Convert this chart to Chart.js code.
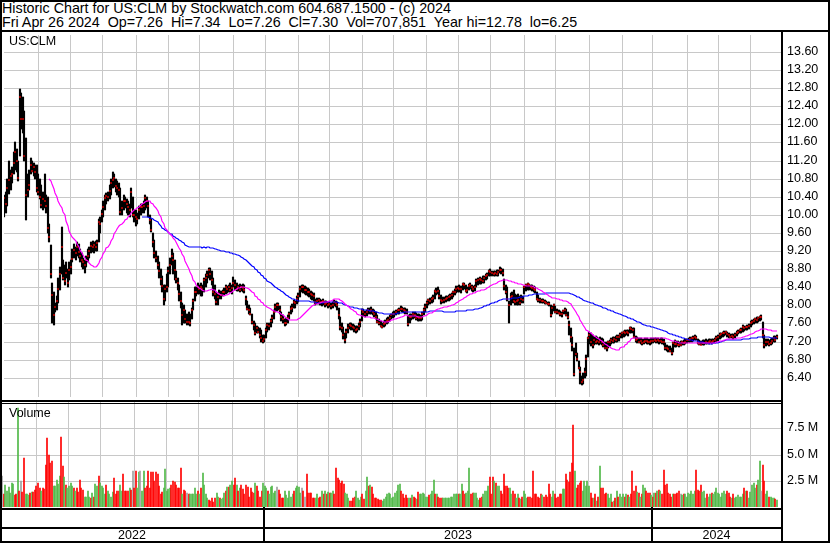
<!DOCTYPE html>
<html>
<head>
<meta charset="utf-8">
<script src="https://cdn.jsdelivr.net/npm/chart.js@4.4.1/dist/chart.umd.min.js"></script>
<style>
  body { margin: 0; background: #fff; }
  #wrap { position: relative; width: 830px; height: 543px; overflow: hidden; background: #fff;
          font-family: Arial, "Liberation Sans", sans-serif; color: #000; }
  canvas { position: absolute; left: 0; }
  .ln { position: absolute; background: #000; }
  .txt { position: absolute; font-size: 12.5px; line-height: 13.5px; white-space: pre; }
  .title { font-size: 14.3px; }
</style>
</head>
<body>
<div id="wrap">
  <canvas id="price" width="830" height="370" style="top:31px"></canvas>
  <canvas id="volume" width="830" height="141" style="top:402px"></canvas>

  <div class="txt title" style="left:2px; top:2.3px">Historic Chart for US:CLM by Stockwatch.com 604.687.1500 - (c) 2024
Fri Apr 26 2024  Op=7.26  Hi=7.34  Lo=7.26  Cl=7.30  Vol=707,851  Year hi=12.78  lo=6.25</div>
  <div class="txt" style="left:9px; top:35px">US:CLM</div>
  <div class="txt" style="left:9px; top:406.5px">Volume</div>

  <!-- frame -->
  <div class="ln" style="left:0; top:0; width:830px; height:2px"></div>
  <div class="ln" style="left:0; top:0; width:2px; height:543px"></div>
  <div class="ln" style="left:828px; top:0; width:2px; height:543px"></div>
  <div class="ln" style="left:0; top:541px; width:830px; height:2px"></div>
  <div class="ln" style="left:0; top:30px; width:830px; height:2px"></div>
  <div class="ln" style="left:781px; top:30px; width:2px; height:513px"></div>
  <div class="ln" style="left:0; top:400px; width:783px; height:2px"></div>
  <div class="ln" style="left:0; top:403px; width:783px; height:1px"></div>
  <div class="ln" style="left:0; top:508px; width:783px; height:2px"></div>
  <div class="ln" style="left:0; top:527px; width:783px; height:2px"></div>
</div>

<script>
// daily bars, May 2 2022 .. Apr 26 2024, x = trading day index
const highs = [
10.45,10.50,10.80,11.18,11.00,11.05,11.40,11.60,11.45,11.20,
12.78,12.70,12.60,12.30,11.70,10.90,11.00,11.25,11.20,11.15,
11.10,11.10,10.90,10.80,10.65,10.50,10.90,10.45,10.40,9.80,
9.33,8.50,8.30,8.05,8.20,8.60,8.85,9.73,9.00,8.90,
8.95,8.80,8.95,9.00,9.25,9.35,9.30,9.40,9.35,9.25,
9.15,9.05,9.00,9.10,9.25,9.30,9.40,9.42,9.40,9.42,
9.45,9.90,9.95,10.10,10.30,10.45,10.48,10.50,10.65,10.80,
10.95,10.90,10.80,10.75,10.70,10.60,10.30,10.45,10.40,10.35,
10.30,10.25,10.60,10.40,10.10,10.10,10.05,10.20,10.25,10.25,
10.30,10.45,10.40,10.30,10.00,9.90,9.60,9.45,9.20,9.10,
8.95,8.80,8.65,8.45,8.45,8.70,8.85,9.05,9.25,9.15,
9.00,8.75,8.60,8.45,8.30,8.05,8.00,7.90,7.80,7.85,
7.80,7.95,8.15,8.40,8.40,8.50,8.45,8.50,8.45,8.60,
8.70,8.75,8.83,8.82,8.75,8.60,8.45,8.30,8.25,8.35,
8.32,8.35,8.38,8.45,8.42,8.45,8.50,8.45,8.62,8.55,
8.50,8.45,8.48,8.45,8.47,8.45,8.20,8.10,8.00,7.95,
7.80,7.65,7.60,7.55,7.52,7.50,7.45,7.35,7.35,7.50,
7.62,7.62,7.70,7.78,7.90,8.02,8.05,8.06,7.98,7.85,
7.78,7.70,7.72,7.78,7.86,7.98,8.02,8.12,8.10,8.20,
8.28,8.43,8.45,8.45,8.42,8.40,8.38,8.36,8.32,8.30,
8.28,8.15,8.16,8.16,8.14,8.12,8.14,8.10,8.10,8.08,
8.08,8.05,8.07,8.12,8.10,8.08,7.95,7.75,7.60,7.52,
7.40,7.48,7.58,7.62,7.60,7.58,7.56,7.54,7.55,7.62,
7.70,7.92,7.92,7.88,7.90,7.95,7.94,7.96,7.92,7.90,
7.86,7.78,7.70,7.66,7.62,7.65,7.68,7.72,7.74,7.78,
7.82,7.86,7.88,7.90,7.93,7.95,7.98,7.96,7.95,7.94,
7.92,7.78,7.80,7.82,7.85,7.86,7.84,7.82,7.80,7.78,
7.85,7.95,8.02,8.10,8.14,8.16,8.18,8.22,8.35,8.38,
8.40,8.35,8.22,8.18,8.18,8.20,8.20,8.22,8.25,8.28,
8.32,8.36,8.42,8.43,8.44,8.42,8.50,8.49,8.44,8.40,
8.47,8.50,8.46,8.43,8.45,8.58,8.60,8.62,8.60,8.64,
8.66,8.70,8.72,8.79,8.80,8.76,8.75,8.76,8.78,8.78,
8.84,8.82,8.80,8.58,8.45,8.40,8.10,8.28,8.30,8.35,
8.25,8.22,8.25,8.20,8.22,8.20,8.43,8.48,8.50,8.48,
8.46,8.44,8.42,8.40,8.30,8.22,8.16,8.15,8.14,8.12,
8.10,8.08,8.07,8.00,7.98,8.02,7.98,7.92,7.90,7.88,
7.86,7.90,7.94,7.92,7.85,7.65,7.50,7.30,7.05,7.16,
6.95,6.78,6.63,6.45,6.50,6.62,6.90,7.30,7.42,7.40,
7.35,7.30,7.32,7.30,7.28,7.30,7.28,7.25,7.20,7.18,
7.22,7.24,7.28,7.30,7.31,7.32,7.34,7.35,7.40,7.42,
7.44,7.46,7.46,7.45,7.52,7.52,7.50,7.49,7.32,7.30,
7.28,7.27,7.26,7.25,7.28,7.27,7.26,7.25,7.28,7.27,
7.28,7.27,7.28,7.26,7.28,7.27,7.25,7.17,7.13,7.11,
7.10,7.05,7.20,7.24,7.22,7.21,7.20,7.21,7.22,7.24,
7.25,7.26,7.28,7.29,7.31,7.32,7.34,7.33,7.26,7.24,
7.22,7.23,7.24,7.25,7.24,7.26,7.26,7.25,7.26,7.27,
7.32,7.34,7.38,7.40,7.42,7.43,7.44,7.42,7.40,7.36,
7.37,7.36,7.38,7.44,7.46,7.48,7.50,7.56,7.55,7.54,
7.56,7.58,7.66,7.68,7.70,7.72,7.74,7.75,7.77,7.78,
7.64,7.35,7.25,7.26,7.24,7.26,7.28,7.32,7.33,7.34
];
const lows = [
9.95,10.05,10.20,10.46,10.55,10.70,10.90,11.00,10.95,10.75,
11.30,11.90,11.80,11.18,9.88,10.40,10.55,10.90,10.95,10.85,
10.80,10.50,10.45,10.35,10.15,10.10,10.15,10.05,9.60,9.40,
8.61,7.60,7.56,7.85,7.90,8.05,8.35,8.70,8.55,8.45,
8.60,8.40,8.55,8.70,8.95,9.05,9.00,9.10,9.05,8.95,
8.85,8.80,8.72,8.85,8.95,9.05,9.15,9.18,9.15,9.20,
9.20,9.40,9.60,9.85,9.95,10.10,10.25,10.30,10.35,10.45,
10.60,10.62,10.50,10.45,10.40,10.00,10.00,10.10,10.15,10.05,
10.00,9.95,10.15,9.95,9.85,9.75,9.80,9.90,10.00,10.05,
10.05,10.10,10.15,9.95,9.80,9.62,9.30,9.05,8.95,8.80,
8.60,8.45,8.30,8.00,8.10,8.30,8.40,8.70,8.90,8.70,
8.55,8.50,8.35,8.10,7.95,7.56,7.60,7.60,7.56,7.56,
7.55,7.70,7.90,8.10,8.20,8.25,8.25,8.20,8.20,8.30,
8.40,8.50,8.60,8.55,8.45,8.20,8.15,8.00,8.00,8.15,
8.15,8.20,8.22,8.25,8.28,8.30,8.30,8.25,8.40,8.35,
8.32,8.32,8.30,8.32,8.30,8.28,8.00,7.90,7.80,7.78,
7.58,7.45,7.35,7.38,7.38,7.28,7.20,7.17,7.18,7.28,
7.42,7.45,7.52,7.60,7.70,7.85,7.88,7.90,7.82,7.65,
7.60,7.55,7.56,7.62,7.70,7.80,7.86,7.95,7.95,8.02,
8.08,8.18,8.30,8.28,8.25,8.24,8.20,8.18,8.15,8.12,
8.10,8.00,8.02,8.02,8.00,7.98,8.00,7.97,7.98,7.94,
7.96,7.92,7.94,7.98,7.96,7.90,7.70,7.45,7.42,7.25,
7.17,7.28,7.40,7.48,7.46,7.45,7.42,7.40,7.42,7.46,
7.52,7.65,7.76,7.74,7.76,7.80,7.80,7.82,7.78,7.75,
7.70,7.60,7.56,7.52,7.50,7.52,7.55,7.58,7.60,7.65,
7.70,7.72,7.75,7.78,7.80,7.82,7.88,7.85,7.84,7.82,
7.80,7.55,7.62,7.68,7.70,7.72,7.68,7.65,7.66,7.65,
7.68,7.78,7.85,7.95,8.00,8.02,8.05,8.08,8.15,8.22,
8.25,8.15,8.04,8.06,8.05,8.08,8.10,8.10,8.12,8.15,
8.18,8.22,8.28,8.30,8.30,8.28,8.35,8.36,8.30,8.28,
8.33,8.36,8.32,8.30,8.32,8.40,8.45,8.47,8.48,8.50,
8.50,8.55,8.58,8.64,8.66,8.65,8.64,8.65,8.65,8.66,
8.72,8.70,8.65,8.35,8.25,8.10,7.60,8.00,8.05,8.05,
8.00,8.00,8.00,8.00,8.05,8.05,8.25,8.32,8.33,8.35,
8.34,8.32,8.30,8.28,8.12,8.08,8.06,8.05,8.05,8.04,
8.02,8.00,7.98,7.75,7.80,7.88,7.84,7.82,7.80,7.76,
7.74,7.80,7.82,7.76,7.70,7.35,7.20,7.00,6.45,6.88,
6.77,6.60,6.27,6.25,6.27,6.40,6.45,6.85,7.15,7.10,
7.05,7.12,7.15,7.14,7.12,7.15,7.12,7.08,7.03,7.00,
7.05,7.10,7.14,7.16,7.17,7.18,7.20,7.22,7.27,7.28,
7.30,7.33,7.34,7.32,7.38,7.40,7.38,7.28,7.18,7.16,
7.16,7.15,7.13,7.14,7.16,7.15,7.14,7.13,7.15,7.16,
7.18,7.16,7.17,7.15,7.16,7.14,7.13,7.02,7.00,6.98,
6.96,6.91,6.98,7.08,7.09,7.10,7.09,7.10,7.12,7.13,
7.14,7.16,7.18,7.18,7.20,7.22,7.24,7.23,7.14,7.12,
7.12,7.13,7.13,7.14,7.14,7.15,7.16,7.15,7.16,7.17,
7.20,7.22,7.26,7.28,7.30,7.33,7.34,7.30,7.28,7.27,
7.27,7.26,7.28,7.32,7.36,7.38,7.40,7.42,7.44,7.45,
7.46,7.48,7.52,7.56,7.58,7.60,7.62,7.64,7.66,7.68,
7.28,7.06,7.10,7.12,7.10,7.12,7.14,7.18,7.20,7.26
];
const closes = [
10.38,10.25,10.60,10.78,10.85,10.90,11.14,11.39,11.20,10.82,
12.60,12.12,12.12,11.30,10.43,10.55,10.67,11.10,10.97,11.05,
10.95,10.60,10.50,10.40,10.22,10.35,10.31,10.20,9.70,9.50,
8.70,8.22,7.78,7.96,8.10,8.36,8.69,9.30,8.60,8.54,
8.72,8.50,8.79,8.85,9.03,9.23,9.15,9.30,9.19,9.10,
9.01,8.95,8.90,9.00,9.08,9.20,9.32,9.30,9.34,9.30,
9.38,9.84,9.80,10.02,10.17,10.38,10.42,10.40,10.53,10.70,
10.78,10.82,10.64,10.60,10.55,10.06,10.15,10.31,10.30,10.25,
10.17,10.10,10.50,10.00,10.00,9.95,9.90,10.10,10.17,10.17,
10.20,10.38,10.30,10.20,9.88,9.66,9.41,9.15,9.05,8.90,
8.75,8.58,8.43,8.14,8.36,8.40,8.76,8.90,9.08,9.00,
8.79,8.58,8.50,8.25,8.10,7.78,7.89,7.70,7.64,7.64,
7.62,7.90,8.10,8.29,8.30,8.40,8.36,8.40,8.36,8.55,
8.61,8.68,8.79,8.70,8.55,8.29,8.25,8.07,8.18,8.25,
8.22,8.29,8.30,8.40,8.36,8.40,8.33,8.38,8.50,8.45,
8.36,8.40,8.35,8.40,8.38,8.34,8.14,7.93,7.90,7.82,
7.64,7.57,7.38,7.50,7.42,7.35,7.28,7.22,7.25,7.45,
7.57,7.55,7.65,7.72,7.85,7.96,8.00,8.00,7.90,7.75,
7.70,7.60,7.62,7.71,7.80,7.93,7.95,8.07,8.05,8.14,
8.20,8.36,8.40,8.40,8.33,8.33,8.30,8.29,8.25,8.22,
8.20,8.07,8.10,8.11,8.08,8.07,8.09,8.04,8.05,8.00,
8.02,7.98,8.00,8.07,8.05,8.00,7.78,7.53,7.50,7.35,
7.24,7.42,7.50,7.57,7.55,7.53,7.50,7.46,7.48,7.55,
7.64,7.89,7.85,7.80,7.85,7.89,7.87,7.90,7.85,7.82,
7.75,7.64,7.60,7.55,7.53,7.58,7.60,7.65,7.67,7.72,
7.78,7.80,7.82,7.85,7.89,7.90,7.93,7.92,7.89,7.88,
7.86,7.58,7.75,7.74,7.82,7.78,7.72,7.75,7.71,7.72,
7.82,7.90,7.96,8.05,8.11,8.10,8.14,8.16,8.32,8.30,
8.32,8.20,8.11,8.10,8.11,8.14,8.16,8.18,8.20,8.22,
8.29,8.30,8.36,8.38,8.36,8.37,8.47,8.45,8.32,8.35,
8.43,8.45,8.40,8.36,8.40,8.54,8.56,8.58,8.55,8.54,
8.60,8.65,8.68,8.76,8.74,8.72,8.70,8.72,8.70,8.74,
8.79,8.78,8.72,8.43,8.30,8.14,8.00,8.18,8.20,8.10,
8.07,8.10,8.11,8.05,8.14,8.12,8.40,8.44,8.47,8.45,
8.40,8.38,8.36,8.34,8.14,8.12,8.11,8.09,8.10,8.07,
8.05,8.04,8.02,7.78,7.95,8.00,7.86,7.85,7.83,7.82,
7.80,7.88,7.89,7.78,7.75,7.56,7.31,7.13,6.48,6.92,
6.81,6.62,6.52,6.30,6.35,6.52,6.81,7.28,7.35,7.20,
7.12,7.24,7.20,7.22,7.20,7.24,7.18,7.13,7.06,7.05,
7.18,7.20,7.24,7.22,7.25,7.24,7.31,7.30,7.35,7.38,
7.42,7.40,7.42,7.40,7.49,7.48,7.46,7.31,7.24,7.25,
7.20,7.22,7.17,7.20,7.22,7.21,7.20,7.18,7.22,7.21,
7.24,7.22,7.23,7.21,7.22,7.20,7.19,7.06,7.05,7.04,
7.00,6.95,7.17,7.15,7.14,7.13,7.12,7.12,7.18,7.17,
7.20,7.23,7.24,7.25,7.27,7.28,7.30,7.28,7.18,7.14,
7.13,7.16,7.17,7.18,7.16,7.20,7.22,7.20,7.21,7.23,
7.28,7.30,7.35,7.36,7.38,7.40,7.42,7.36,7.34,7.31,
7.33,7.30,7.34,7.40,7.42,7.45,7.46,7.53,7.50,7.53,
7.52,7.55,7.62,7.64,7.66,7.69,7.68,7.72,7.75,7.75,
7.35,7.13,7.18,7.20,7.15,7.17,7.22,7.28,7.24,7.30
];
// volume in millions of shares
const volumes = [
3.0,1.2,2.1,1.5,1.9,1.3,2.3,2.2,1.1,1.2,
9.4,1.5,2.45,1.4,4.7,1.2,1.2,1.1,1.3,1.4,
1.4,1.6,2.0,2.3,1.8,1.5,1.8,1.7,4.0,6.6,
5.0,4.2,4.35,2.0,2.0,2.6,2.2,3.0,6.7,3.9,
2.9,2.1,1.8,2.0,2.3,2.0,1.8,1.5,1.8,1.4,
2.6,1.8,1.6,1.0,1.0,1.5,1.0,0.9,1.3,1.0,
2.2,2.0,3.0,2.3,2.0,1.8,1.2,2.1,1.5,1.2,
1.0,1.4,2.8,1.2,1.5,1.5,2.1,1.5,3.1,1.5,
1.5,1.5,1.8,1.6,3.4,1.8,3.4,1.8,3.3,3.4,
1.5,3.4,1.8,2.0,3.4,1.8,3.3,3.3,2.45,3.3,
3.1,2.0,1.2,1.4,1.8,3.6,1.5,1.7,1.8,2.1,
2.45,2.4,2.1,1.8,1.8,3.7,1.2,1.6,1.5,1.3,
1.2,1.2,1.2,1.2,1.8,1.2,1.5,1.2,1.8,3.2,
2.1,1.2,0.9,0.7,0.6,0.9,0.5,0.9,1.3,1.0,
0.9,0.8,0.9,1.3,1.5,1.9,1.9,2.1,2.45,2.1,
2.8,2.1,1.5,1.8,2.1,1.7,1.2,2.1,1.9,1.0,
1.8,1.4,1.3,2.3,2.0,1.5,1.0,1.5,2.3,2.0,
1.8,1.5,1.2,1.9,2.0,1.3,1.5,1.9,1.6,1.2,
0.9,0.9,1.5,1.1,0.9,1.5,1.0,1.2,1.5,1.8,
2.0,1.9,1.3,1.8,1.5,1.0,3.1,1.3,1.3,1.3,
0.9,0.9,0.9,1.2,0.9,1.0,1.5,1.2,1.5,1.2,
1.4,1.3,1.3,1.5,1.2,3.7,2.8,2.6,2.3,2.45,
2.2,1.3,1.2,0.9,0.55,0.55,0.9,1.0,1.5,0.9,
0.7,1.0,1.2,0.8,1.5,2.9,2.0,2.13,1.9,1.2,
0.9,0.9,0.8,0.7,0.7,0.6,0.8,1.0,1.2,1.3,
1.2,0.9,1.0,1.3,1.5,2.1,2.2,1.5,1.2,0.9,
1.1,0.9,0.9,0.85,1.1,1.0,0.9,0.8,1.4,1.2,
1.2,1.3,1.2,1.0,1.0,1.1,1.2,1.5,2.6,1.2,
1.2,1.0,0.9,0.9,0.85,0.85,0.9,0.9,0.9,1.0,
1.0,1.2,1.2,1.2,1.2,1.2,2.2,1.5,1.2,1.3,
1.5,3.7,1.2,1.34,1.3,1.3,0.9,0.7,0.9,1.0,
1.2,1.5,1.5,1.98,2.9,1.2,2.9,2.45,2.3,2.0,
1.98,1.5,1.2,3.1,2.0,1.98,1.8,1.8,1.2,1.5,
1.2,0.9,1.2,0.9,0.8,1.0,1.5,1.2,0.9,1.0,
1.0,0.9,3.4,1.2,1.2,1.0,0.9,1.2,1.1,1.0,
1.1,1.0,2.2,1.2,1.0,1.5,1.2,0.9,1.0,1.2,
1.2,1.7,1.7,3.1,2.6,2.4,3.3,4.2,7.84,3.4,
1.8,2.1,2.3,2.45,1.5,2.45,2.0,2.5,2.0,1.3,
0.9,0.9,1.2,0.6,1.0,3.9,1.8,1.8,1.2,1.3,
1.2,0.9,1.2,0.5,0.6,0.9,1.5,1.0,1.2,1.0,
1.2,1.0,1.2,1.1,1.0,1.2,3.4,1.5,2.0,1.4,
1.3,1.0,1.2,2.1,1.8,1.5,1.3,1.3,1.1,1.0,
1.3,1.3,1.5,1.6,1.5,1.2,3.5,2.1,2.2,1.3,
1.2,1.0,1.2,1.2,1.2,1.3,1.5,1.2,1.1,1.2,
1.2,1.0,1.3,1.2,1.5,1.2,1.5,3.5,1.6,1.5,
2.1,1.4,1.5,0.9,1.2,1.0,1.2,1.3,1.2,1.4,
1.8,1.3,1.2,1.0,1.3,1.5,1.2,1.5,1.3,1.0,
0.9,1.2,0.9,1.0,1.1,1.0,1.0,1.2,1.8,1.5,
1.5,0.9,1.4,2.1,2.3,1.8,2.1,2.6,4.4,1.5,
4.0,2.5,1.2,1.5,1.0,1.0,0.9,0.9,0.8,0.71
];

const priceTicks = [6.40,6.80,7.20,7.60,8.00,8.40,8.80,9.20,9.60,10.00,10.40,10.80,11.20,11.60,12.00,12.40,12.80,13.20,13.60];
const volumeTicks = [2.5, 5.0, 7.5];
// month boundaries (in bar index units) for the vertical grid
const monthLines = [21.5,42.5,63,85,105.5,126,148,168.5,190,210,231,251,272.5,293,314,336,356,377.5,399,418.5,441,461,481.5];
const years = ['2022', '2023', '2024'];
const yearBreaks = [168.5, 418.5];
const fastPeriod = 30, slowPeriod = 90;

[highs, lows, closes, volumes].forEach(function (a, k) {
    if (a.length !== 500) throw new Error('array ' + k + ' has ' + a.length + ' values');
});

const FONT = 'Arial, "Liberation Sans", sans-serif';
const X_MIN = -0.2, X_MAX = 501.7;

function movingAverage(values, n) {
    const out = [];
    for (let i = n - 1; i < values.length; i++) {
        let sum = 0;
        for (let k = i - n + 1; k <= i; k++) sum += values[k];
        out.push({ x: i, y: sum / n });
    }
    return out;
}

function xAxis() {
    return {
        type: 'linear', min: X_MIN, max: X_MAX, offset: false, alignToPixels: true,
        ticks: { display: false },
        grid: { color: '#c8c8c8', lineWidth: 1, drawTicks: false, offset: false },
        border: { display: false },
        afterBuildTicks: s => { s.ticks = monthLines.map(v => ({ value: v })); },
        afterFit: s => { s.height = 0; s.paddingLeft = 0; s.paddingRight = 0; }
    };
}

function yAxis(min, max, ticks, fmt) {
    return {
        position: 'right', min: min, max: max, alignToPixels: true,
        grid: { color: '#c8c8c8', lineWidth: 1, drawTicks: false },
        border: { display: false },
        ticks: { color: '#000', padding: 6, font: { family: FONT, size: 12.5 }, callback: fmt },
        afterBuildTicks: s => { s.ticks = ticks.map(v => ({ value: v })); },
        afterFit: s => { s.width = 49; s.paddingTop = 0; s.paddingBottom = 0; }
    };
}

// price panel
new Chart(document.getElementById('price'), {
    type: 'scatter',
    data: {
        datasets: [
            { type: 'line', data: movingAverage(closes, fastPeriod), borderColor: '#ff00ff', borderWidth: 1.2,
              pointRadius: 0, showLine: true, order: 0 },
            { type: 'line', data: movingAverage(closes, slowPeriod), borderColor: '#0000ff', borderWidth: 1.2,
              pointRadius: 0, showLine: true, order: 1 },
            { type: 'scatter', data: closes.map((c, i) => ({ x: i, y: c })), pointStyle: 'rect',
              pointRadius: 1.1, backgroundColor: '#ff0000', borderWidth: 0, order: 2 },
            { type: 'bar', data: highs.map((h, i) => ({ x: i, y: [lows[i], h] })), backgroundColor: '#000',
              barThickness: 1.5, order: 3 }
        ]
    },
    options: {
        responsive: false, animation: false, events: [],
        layout: { padding: { left: 2, right: 0, top: 0, bottom: 1 } },
        plugins: { legend: { display: false }, tooltip: { enabled: false } },
        scales: {
            x: xAxis(),
            y: yAxis(5.975, 13.975, priceTicks, v => v.toFixed(2))
        }
    }
});

// bottom axis: year dividers and labels
const yearAxis = {
    id: 'yearAxis',
    afterDraw(chart) {
        const ctx = chart.ctx, xs = chart.scales.x, area = chart.chartArea;
        const edges = [0].concat(yearBreaks.map(v => xs.getPixelForValue(v)), [area.right]);
        ctx.save();
        ctx.fillStyle = '#000';
        for (let k = 1; k < edges.length - 1; k++) {
            ctx.fillRect(Math.round(edges[k]) - 1, area.bottom, 2, chart.height - area.bottom);
        }
        ctx.font = '12.5px ' + FONT;
        ctx.textAlign = 'center';
        ctx.textBaseline = 'alphabetic';
        years.forEach((yr, k) => ctx.fillText(yr, (edges[k] + edges[k + 1]) / 2, area.bottom + 32));
        ctx.restore();
    }
};

// volume panel, coloured by change in close
const volColors = closes.map((c, i) => {
    if (i === 0 || c === closes[i - 1]) return '#a0a0a0';
    return c > closes[i - 1] ? '#50b848' : '#ff0000';
});

new Chart(document.getElementById('volume'), {
    type: 'scatter',
    data: {
        datasets: [
            { type: 'bar', data: volumes.map((v, i) => ({ x: i, y: v })), backgroundColor: volColors,
              barPercentage: 1, categoryPercentage: 1 }
        ]
    },
    options: {
        responsive: false, animation: false, events: [],
        layout: { padding: { left: 2, right: 0, top: 0, bottom: 36 } },
        plugins: { legend: { display: false }, tooltip: { enabled: false } },
        scales: {
            x: xAxis(),
            y: yAxis(0, 10, volumeTicks, v => v.toFixed(1) + ' M')
        }
    },
    plugins: [yearAxis]
});
</script>
</body>
</html>
